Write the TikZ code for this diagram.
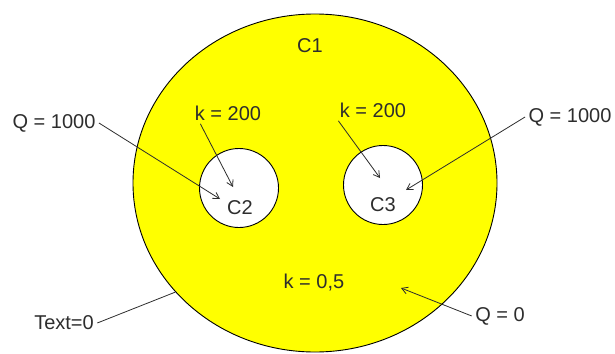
\documentclass[tikz,border=0pt]{standalone}
\usepackage{fontspec}
\setmainfont{Liberation Sans}
\usetikzlibrary{arrows.meta, shapes.geometric}
\definecolor{regionyellow}{RGB}{255,255,0}
\definecolor{leadgray}{RGB}{45,45,45}

\begin{document}
\begin{tikzpicture}[x=1pt, y=-1pt, every node/.style={font=\fontsize{20}{23}\selectfont, text=leadgray},
  region/.style={draw=black, line width=0.9pt, inner sep=0pt},
  lead/.style={draw=leadgray, line width=0.8pt},
  leadarrow/.style={lead, -{Straight Barb[length=6pt, width=7pt]}}]
  \useasboundingbox (0,0) rectangle (615,353);
  % domains
  \node[region, ellipse, fill=regionyellow, minimum width=364pt, minimum height=338pt] (c1) at (315,183) {};
  \node[region, circle, fill=white, minimum size=79pt] (c2) at (239,188) {};
  \node[region, circle, fill=white, minimum size=79pt] (c3) at (383,185) {};
  % labels
  \node (c1lab) at (310,46) {C1};
  \node (c2lab) at (240,208) {C2};
  \node (c3lab) at (383,205) {C3};
  \node (kleft) at (228,113) {k = 200};
  \node (kright) at (373,110) {k = 200};
  \node (kmain) at (314,283) {k = 0,5};
  \node (qleft) at (54,123) {Q = 1000};
  \node (qright) at (570,117) {Q = 1000};
  \node (qzero) at (500,316) {Q = 0};
  \node (text0) at (64,323) {Text=0};
  % arrow ends
  \coordinate (c2q) at (220,199);
  \coordinate (c2k) at (233,187);
  \coordinate (c3k) at (380,178);
  \coordinate (c3q) at (406,190);
  \coordinate (c1q) at (401,288);
  % leaders
  \draw[leadarrow] (qleft.east) -- (c2q);
  \draw[leadarrow] ([xshift=9pt]kleft.south west) -- (c2k);
  \draw[leadarrow] ([xshift=2pt]kright.south west) -- (c3k);
  \draw[leadarrow] (qright.west) -- (c3q);
  \draw[leadarrow] (qzero.west) -- (c1q);
  \draw[lead] (text0.east) -- (c1.218);
\end{tikzpicture}
\end{document}
